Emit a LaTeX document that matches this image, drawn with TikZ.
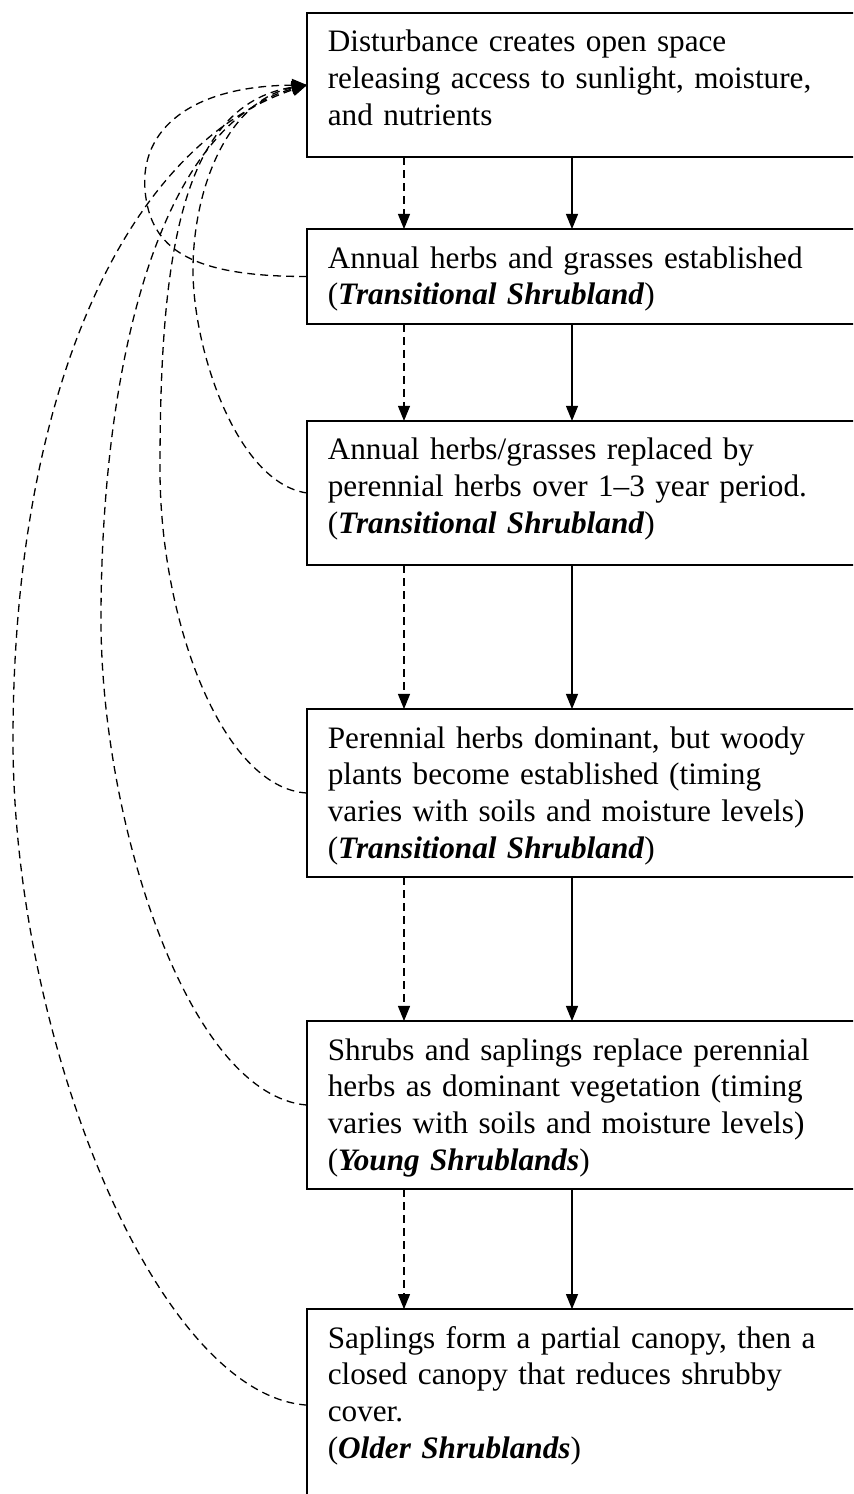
\documentclass[tikz,border=0pt]{standalone}
\usepackage{fontspec}
\setmainfont{Liberation Serif}
\usetikzlibrary{arrows.meta, positioning}
\tikzstyle{stage} = [rectangle, draw=black, line width=0.9pt, outer sep=0pt, text width=204.2pt, inner xsep=8pt, inner ysep=0pt, text height=15pt, align=left, font=\fontsize{12}{14.1}\selectfont]
\tikzstyle{flow} = [line width=0.5pt, -{Triangle[length=5.8pt,width=4.6pt]}]
\tikzstyle{dashflow} = [flow, dash pattern=on 3pt off 2pt]
\tikzstyle{backflow} = [line width=0.5pt, dash pattern=on 3pt off 2pt, -{Triangle[length=5.8pt,width=4.8pt]}]

\begin{document}
\begin{tikzpicture}[x=0.3846pt, y=-0.3846pt]
\useasboundingbox (0,0) rectangle (853,1494);
\clip (0,0) rectangle (853,1494);

% Succession stages
\node (b1) [stage, anchor=north west, text depth=40.4pt] at (307,13) {Disturbance creates open space\\ releasing access to sunlight, moisture,\\ and nutrients};
\node (b2) [stage, below=27.7pt of b1, text depth=21.5pt] {Annual herbs and grasses established\\ (\textbf{\textit{Transitional Shrubland}})};
\node (b3) [stage, below=37.3pt of b2, text depth=40.4pt] {Annual herbs/grasses replaced by\\ perennial herbs over 1--3 year period.\\ (\textbf{\textit{Transitional Shrubland}})};
\node (b4) [stage, below=55.4pt of b3, text depth=49.6pt] {Perennial herbs dominant, but woody\\ plants become established (timing\\ varies with soils and moisture levels)\\ (\textbf{\textit{Transitional Shrubland}})};
\node (b5) [stage, below=55.4pt of b4, text depth=49.6pt] {Shrubs and saplings replace perennial\\ herbs as dominant vegetation (timing\\ varies with soils and moisture levels)\\ (\textbf{\textit{Young Shrublands}})};
\node (b6) [stage, below=46.2pt of b5, text depth=58.8pt] {Saplings form a partial canopy, then a\\ closed canopy that reduces shrubby\\ cover.\\ (\textbf{\textit{Older Shrublands}})};

% Forward arrows
\coordinate (dashcol) at (404,0);
\coordinate (solidcol) at (572,0);
\foreach \i/\j in {1/2,2/3,3/4,4/5,5/6}{
  \draw [dashflow] (dashcol |- b\i.south) -- (dashcol |- b\j.north);
  \draw [flow] (solidcol |- b\i.south) -- (solidcol |- b\j.north);
}

% Return to disturbance
\draw [backflow] (b2.west) .. controls +(-115,0) and +(5,60) .. (145,190) .. controls +(-5,-60) and +(-117,1) .. (b1.west);
\draw [backflow] (b3.west) .. controls +(-70,-10) and +(0,80) .. (193,270) .. controls +(0,-80) and +(-80,15) .. (b1.west);
\draw [backflow] (b4.west) .. controls +(-85,-5) and +(0,150) .. (160,470) .. controls +(0,-200) and +(-130,20) .. (b1.west);
\draw [backflow] (b5.west) .. controls +(-120,-10) and +(0,200) .. (101,620) .. controls +(0,-250) and +(-150,40) .. (b1.west);
\draw [backflow] (b6.west) .. controls +(-150,-10) and +(0,300) .. (13,740) .. controls +(0,-350) and +(-180,60) .. (b1.west);

\end{tikzpicture}
\end{document}
